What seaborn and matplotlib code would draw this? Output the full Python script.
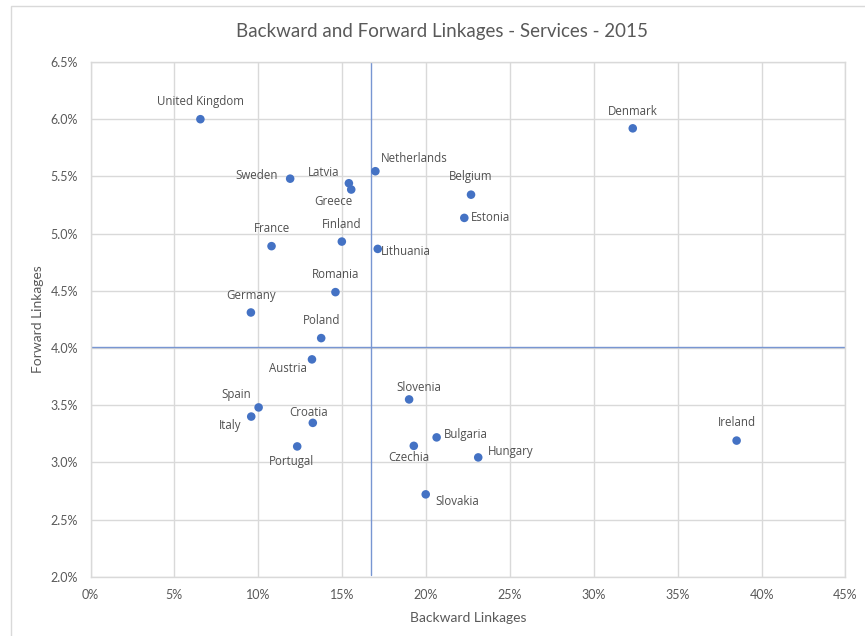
import matplotlib
matplotlib.use("Agg")
import matplotlib.pyplot as plt
from matplotlib.ticker import FuncFormatter
from matplotlib.patches import Rectangle
import seaborn as sns
import pandas as pd

# Country-level linkages in the services sector, 2015 (in percent)
countries = ["United Kingdom", "Denmark", "Sweden", "Latvia", "Greece", "Netherlands",
             "Belgium", "Estonia", "France", "Finland", "Lithuania", "Romania",
             "Germany", "Poland", "Austria", "Spain", "Italy", "Croatia", "Portugal",
             "Slovenia", "Bulgaria", "Czechia", "Hungary", "Slovakia", "Ireland"]
backward = [6.55, 32.32, 11.90, 15.40, 15.54, 16.98,
            22.68, 22.28, 10.79, 14.98, 17.12, 14.60,
            9.56, 13.75, 13.20, 10.02, 9.58, 13.25, 12.32,
            18.99, 20.63, 19.27, 23.11, 19.98, 38.51]
forward = [6.00, 5.92, 5.48, 5.44, 5.385, 5.545,
           5.34, 5.137, 4.89, 4.93, 4.866, 4.488,
           4.31, 4.086, 3.90, 3.48, 3.40, 3.345, 3.139,
           3.55, 3.218, 3.144, 3.043, 2.72, 3.19]

# Reference (average) lines splitting the plot into quadrants
avg_backward = 16.74
avg_forward = 4.007

x_ticks = [0, 5, 10, 15, 20, 25, 30, 35, 40, 45]
y_ticks = [2.0, 2.5, 3.0, 3.5, 4.0, 4.5, 5.0, 5.5, 6.0, 6.5]

# Label placement: (dx, dy) in pixels relative to the marker, and alignment
label_pos = {
    "United Kingdom": (0, 18, "center"), "Denmark": (0, 17, "center"),
    "Sweden": (-12, 3, "right"), "Latvia": (-10, 11, "right"),
    "Greece": (-18, -12, "center"), "Netherlands": (5, 13, "left"),
    "Belgium": (0, 18.5, "center"), "Estonia": (7, 0, "left"),
    "France": (0, 17.5, "center"), "Finland": (0, 17.5, "center"),
    "Lithuania": (3, -3, "left"), "Romania": (0, 18, "center"),
    "Germany": (0, 17, "center"), "Poland": (0, 18, "center"),
    "Austria": (-24, -9.5, "center"), "Spain": (-7, 13, "right"),
    "Italy": (-10, -9, "right"), "Croatia": (-4, 10.5, "center"),
    "Portugal": (-6, -15, "center"), "Slovenia": (10, 12, "center"),
    "Bulgaria": (7, 3, "left"), "Czechia": (-5, -12, "center"),
    "Hungary": (10, 6, "left"), "Slovakia": (10, -7, "left"),
    "Ireland": (0, 18.5, "center"),
}

df = pd.DataFrame({"country": countries, "backward": backward, "forward": forward})

sns.set_theme(style="whitegrid")
plt.rcParams["font.family"] = ["Lato", "DejaVu Sans"]

W, H = 865, 636
fig = plt.figure(figsize=(W / 100, H / 100), dpi=100)
ax = fig.add_axes([90.5 / W, 1 - 576.7 / H, (845.5 - 90.5) / W, (576.7 - 62) / H])

grey_grid = "#d9d9d9"
text_grey = "#595959"
blue = "#4472C4"

ax.axvline(avg_backward, ymin=0.004, ymax=1, color="#7896d2", lw=1.0, zorder=2)
ax.axhline(avg_forward, color="#7896d2", lw=1.0, zorder=2)

sns.scatterplot(data=df, x="backward", y="forward", ax=ax, color=blue,
                s=38, edgecolor="none", zorder=3)

for name, xv, yv in zip(countries, backward, forward):
    dx, dy, ha = label_pos[name]
    ax.annotate(name, (xv, yv), xytext=(dx, dy), textcoords="offset pixels",
                ha=ha, va="center", fontsize=8.3, color="#505050",
                family=["Open Sans", "DejaVu Sans"], zorder=4)

ax.set_xlim(x_ticks[0], x_ticks[-1])
ax.set_ylim(y_ticks[0], y_ticks[-1])
ax.set_xticks(x_ticks)
ax.set_yticks(y_ticks)
ax.xaxis.set_major_formatter(FuncFormatter(lambda v, p: f"{v:.0f}%"))
ax.yaxis.set_major_formatter(FuncFormatter(lambda v, p: f"{v:.1f}%"))

ax.grid(True, color=grey_grid, lw=1.0)
for side in ["left", "right", "top", "bottom"]:
    ax.spines[side].set_visible(True)
    ax.spines[side].set_color(grey_grid)
    ax.spines[side].set_linewidth(1.0)
ax.set_axisbelow(True)

ax.tick_params(axis="both", length=0, labelsize=9, labelcolor=text_grey)
ax.tick_params(axis="y", pad=9)
ax.tick_params(axis="x", pad=9)

ax.set_xlabel("Backward Linkages", fontsize=10, color=text_grey, labelpad=8)
ax.set_ylabel("Forward Linkages", fontsize=10, color=text_grey, labelpad=5)

fig.text(442 / W, 1 - 32 / H, "Backward and Forward Linkages - Services - 2015",
         ha="center", va="center", fontsize=13.5, color=text_grey)

# Outer chart frame
fig.patches.append(Rectangle((11 / W, -0.1), 2.0, 1.1 - 6 / H, transform=fig.transFigure,
                             fill=False, edgecolor=grey_grid, lw=1.0))

fig.savefig("out.png", dpi=100, facecolor="white")
